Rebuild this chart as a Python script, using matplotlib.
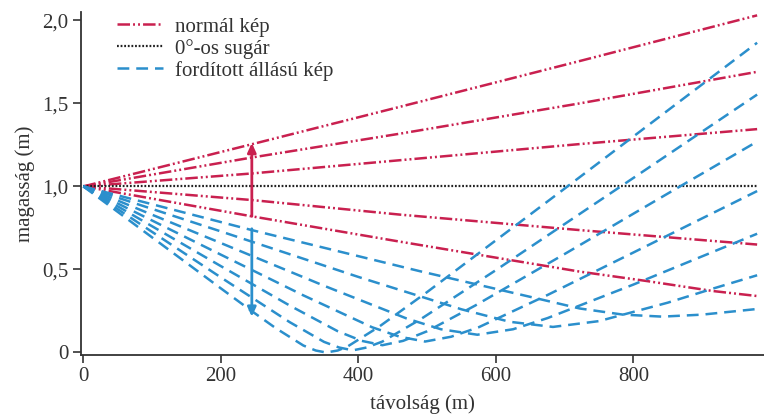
import matplotlib
matplotlib.use("Agg")
import matplotlib.pyplot as plt
from matplotlib.ticker import FuncFormatter

# red rays (normal image)
red_x = [0, 245, 461, 722, 980]
red_y1 = [1.0, 1.254, 1.48, 1.755, 2.03]
red_y2 = [1.0, 1.174, 1.318, 1.50, 1.69]
red_y3 = [1.0, 1.078, 1.158, 1.255, 1.345]
red_y4 = [1.0, 0.918, 0.83, 0.737, 0.65]
red_x5 = [0, 245, 461, 722, 820, 916, 980]
red_y5 = [1.0, 0.82, 0.667, 0.487, 0.43, 0.37, 0.34]

# 0 degree ray
zero_x = [0, 980]
zero_y = [1.0, 1.0]

# blue rays (inverted image)
blue_x1 = [0, 245, 489, 650, 722, 785, 842, 900, 980]
blue_y1 = [1.0, 0.737, 0.49, 0.335, 0.265, 0.228, 0.216, 0.228, 0.262]
blue_x2 = [0, 200, 400, 550, 620, 683, 750, 850, 916, 980]
blue_y2 = [1.0, 0.729, 0.455, 0.26, 0.185, 0.154, 0.189, 0.30, 0.385, 0.465]
blue_x3 = [0, 200, 350, 470, 520, 573, 625, 675, 800, 980]
blue_y3 = [1.0, 0.659, 0.402, 0.205, 0.14, 0.107, 0.14, 0.207, 0.409, 0.715]
blue_x4 = [0, 200, 320, 420, 460, 497, 535, 575, 675, 800, 980]
blue_y4 = [1.0, 0.589, 0.344, 0.152, 0.095, 0.066, 0.095, 0.152, 0.346, 0.602, 0.972]
blue_x5 = [0, 200, 300, 370, 405, 435, 465, 500, 570, 700, 850, 980]
blue_y5 = [1.0, 0.52, 0.283, 0.128, 0.07, 0.044, 0.07, 0.128, 0.283, 0.593, 0.957, 1.27]
blue_x6 = [0, 200, 300, 350, 372, 392, 412, 435, 490, 600, 800, 980]
blue_y6 = [1.0, 0.452, 0.183, 0.064, 0.03, 0.013, 0.03, 0.066, 0.199, 0.496, 1.051, 1.553]
blue_x7 = [0, 200, 245, 280, 320, 338, 353, 370, 385, 430, 500, 700, 980]
blue_y7 = [1.0, 0.386, 0.249, 0.146, 0.042, 0.012, 0.0, 0.012, 0.038, 0.155, 0.364, 0.987, 1.865]

blue_xs = [blue_x1, blue_x2, blue_x3, blue_x4, blue_x5, blue_x6, blue_x7]
blue_ys = [blue_y1, blue_y2, blue_y3, blue_y4, blue_y5, blue_y6, blue_y7]
red_xs = [red_x, red_x, red_x, red_x, red_x5]
red_ys = [red_y1, red_y2, red_y3, red_y4, red_y5]

# arrows: x, start y, end y
arrow_red_near = (245, 0.82, 1.262)
arrow_red_far = (985, 0.335, 2.055)
arrow_blue = (245, 0.745, 0.215)

xticks = [0, 200, 400, 600, 800]
yticks = [0, 0.5, 1.0, 1.5, 2.0]

RED = "#c9204f"
BLUE = "#2b8fcc"
INK = "#333333"

plt.rcParams["font.family"] = ["Liberation Serif", "DejaVu Serif"]
plt.rcParams["lines.scale_dashes"] = False

fig = plt.figure(figsize=(7.64, 4.15), dpi=100)
ax = fig.add_axes([0.106, 0.145, 0.894, 0.826])

red_dash = (0, (9, 2.2, 1.4, 2.2, 1.4, 2.2))
blue_dash = (0, (8.5, 5))

for i, (xs, ys) in enumerate(zip(red_xs, red_ys)):
    ax.plot(xs, ys, color=RED, lw=1.8, linestyle=red_dash,
            label="normál kép" if i == 0 else None)

ax.plot(zero_x, zero_y, color="#222222", lw=1.6, linestyle=(0, (1.3, 1.3)),
        label="0°-os sugár")

for i, (xs, ys) in enumerate(zip(blue_xs, blue_ys)):
    ax.plot(xs, ys, color=BLUE, lw=1.8, linestyle=blue_dash,
            label="fordított állású kép" if i == 0 else None)

for (ax_x, y0, y1), col in [(arrow_red_near, RED), (arrow_red_far, RED), (arrow_blue, BLUE)]:
    ax.annotate("", xy=(ax_x, y1), xytext=(ax_x, y0),
                arrowprops=dict(arrowstyle="-|>,head_length=0.55,head_width=0.25",
                                color=col, lw=2, shrinkA=0, shrinkB=0))

ax.set_xlim(-3.5, 990)
ax.set_ylim(-0.014, 2.05)
ax.set_xticks(xticks)
ax.set_yticks(yticks)
ax.yaxis.set_major_formatter(FuncFormatter(
    lambda v, p: "0" if v == 0 else f"{v:.1f}".replace(".", ",")))

for s in ["top", "right"]:
    ax.spines[s].set_visible(False)
for s in ["left", "bottom"]:
    ax.spines[s].set_color(INK)
    ax.spines[s].set_linewidth(1.3)
ax.tick_params(direction="out", length=6, width=1.2, color=INK,
               labelsize=15, labelcolor=INK, pad=3)

ax.set_xlabel("távolság (m)", fontsize=15, color=INK, labelpad=6)
ax.set_ylabel("magasság (m)", fontsize=15, color=INK, labelpad=5)

ax.legend(loc="upper left", bbox_to_anchor=(0.025, 1.04), frameon=False,
          fontsize=15, handlelength=2.2, handletextpad=0.6, labelspacing=0.1,
          labelcolor=INK)

fig.savefig("out.png", dpi=100)
